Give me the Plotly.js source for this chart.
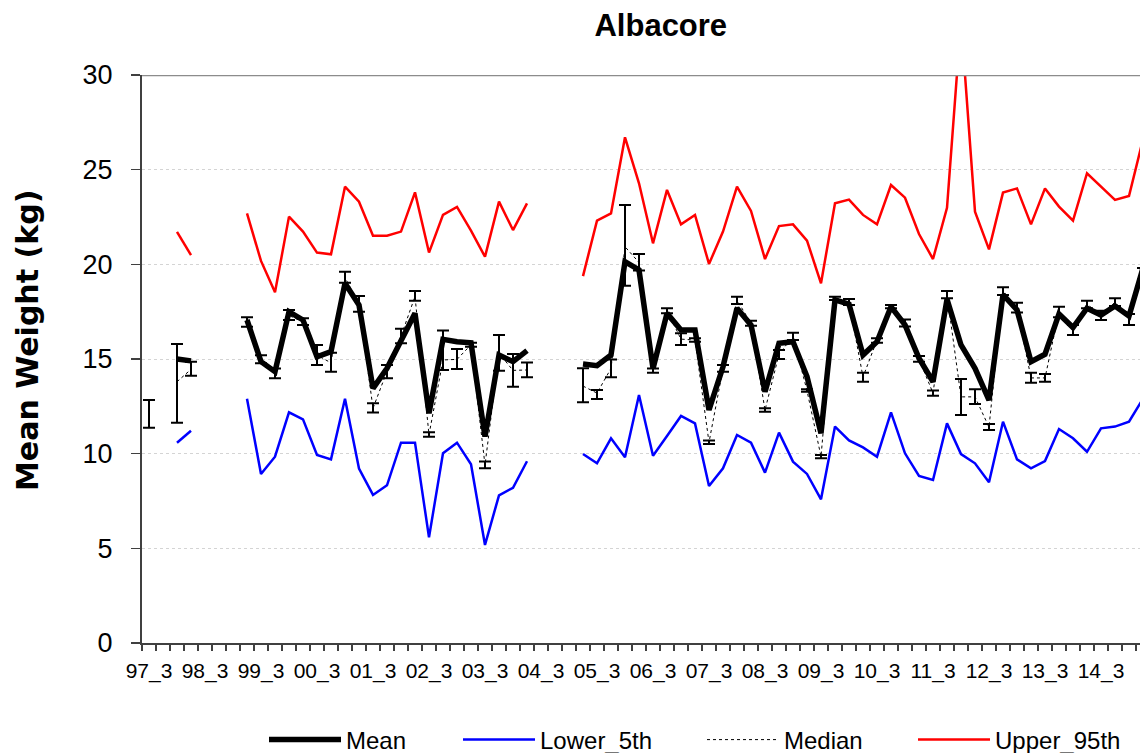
<!DOCTYPE html>
<html><head><meta charset="utf-8">
<script src="https://cdn.plot.ly/plotly-3.0.1.min.js"></script>
<style>html,body{margin:0;padding:0;overflow:hidden;background:#fff}#chart{width:1140px;height:753px}</style>
</head><body><div id="chart"></div><script>
const categories = ['97_3','97_4','98_1','98_2','98_3','98_4','99_1','99_2','99_3','99_4',
  '00_1','00_2','00_3','00_4','01_1','01_2','01_3','01_4','02_1','02_2','02_3','02_4',
  '03_1','03_2','03_3','03_4','04_1','04_2','04_3','04_4','05_1','05_2','05_3','05_4',
  '06_1','06_2','06_3','06_4','07_1','07_2','07_3','07_4','08_1','08_2','08_3','08_4',
  '09_1','09_2','09_3','09_4','10_1','10_2','10_3','10_4','11_1','11_2','11_3','11_4',
  '12_1','12_2','12_3','12_4','13_1','13_2','13_3','13_4','14_1','14_2','14_3','14_4',
  '15_1','15_2'];
const tickLabels = ['97_3','98_3','99_3','00_3','01_3','02_3','03_3','04_3','05_3','06_3',
  '07_3','08_3','09_3','10_3','11_3','12_3','13_3','14_3'];

const meanWeight = [12.1, null, 15.0, 14.9, null, null, null,
  17.06, 14.86, 14.33, 17.5, 17.06, 15.12, 15.39, 19.0, 17.85, 13.45, 14.51, 16.0, 17.41, 12.13, 16.04, 15.91, 15.86, 10.9, 15.21, 14.86, 15.44,
  null, null, null,
  14.74, 14.65, 15.21, 20.14, 19.70, 14.5, 17.41, 16.53, 16.53, 12.31, 14.59, 17.68, 16.80, 13.27, 15.83, 15.91, 14.07, 11.08, 18.12, 17.9,
  15.21, 15.91, 17.76, 16.80, 15.04, 13.80, 18.15, 15.74, 14.51, 12.83, 18.4, 17.59, 14.86, 15.25, 17.38, 16.66, 17.68, 17.32, 17.80, 17.27, 19.8];

const lower5th = [null, null, 10.58, 11.21, null, null, null,
  12.90, 8.93, 9.84, 12.18, 11.81, 9.93, 9.70, 12.90, 9.21, 7.82, 8.33, 10.58, 10.58, 5.58, 10.02, 10.58, 9.44, 5.18, 7.80, 8.20, 9.60,
  null, null, null,
  9.98, 9.49, 10.81, 9.81, 13.10, 9.89, 10.93, 11.99, 11.60, 8.29, 9.23, 10.99, 10.58, 9.0, 11.11, 9.58, 8.93, 7.59, 11.43, 10.70,
  10.33, 9.84, 12.18, 10.02, 8.82, 8.61, 11.60, 9.98, 9.49, 8.49, 11.69, 9.70, 9.23, 9.61, 11.30, 10.81, 10.10, 11.34, 11.43, 11.69, 12.9];

const median = [12.1, null, 13.8, 14.45, null, null, null,
  16.95, 15.0, 14.25, 17.3, 16.95, 15.2, 14.8, 19.3, 17.9, 12.4, 14.35, 16.2, 18.3, 11.0, 14.95, 14.98, 15.75, 9.4, 15.3, 14.4, 14.42,
  null, null, null,
  13.57, 13.2, 14.5, 20.93, 20.1, 14.4, 17.55, 16.05, 16.0, 10.6, 14.5, 18.1, 16.9, 12.3, 15.25, 16.2, 13.33, 9.85, 18.2, 18.0,
  14.05, 16.0, 17.77, 16.9, 15.0, 13.2, 18.4, 13.0, 13.0, 11.4, 18.58, 17.7, 14.0, 14.0, 17.48, 16.5, 17.9, 17.3, 18.0, 17.1, 19.5];

const medianCiLow = [11.37, null, 11.63, 14.12, null, null, null,
  16.7, 14.77, 13.98, 17.06, 16.8, 14.68, 14.33, 19.03, 17.5, 12.17, 13.98, 15.83, 18.08, 10.9, 14.42, 14.47, 15.65, 9.23, 14.38, 13.54, 14.03,
  null, null, null,
  12.71, 12.89, 14.03, 18.87, 19.67, 14.28, 17.41, 15.74, 15.91, 10.51, 14.33, 17.9, 16.76, 12.22, 15.0, 16.0, 13.27, 9.76, 18.12, 17.85,
  13.8, 15.86, 17.68, 16.71, 14.86, 13.06, 18.21, 12.04, 12.62, 11.25, 18.38, 17.45, 13.75, 13.8, 17.2, 16.27, 17.68, 17.06, 17.8, 16.8, 19.2];

const medianCiHigh = [12.83, null, 15.79, 14.86, null, null, null,
  17.2, 15.2, 14.5, 17.59, 17.15, 15.74, 15.33, 19.61, 18.33, 12.66, 14.68, 16.6, 18.59, 11.13, 16.5, 15.53, 15.86, 9.58, 16.27, 15.26, 14.81,
  null, null, null,
  14.51, 13.36, 14.98, 23.13, 20.55, 14.5, 17.68, 16.36, 16.1, 10.69, 14.68, 18.29, 17.02, 12.4, 15.48, 16.39, 13.4, 9.93, 18.29, 18.17,
  14.28, 16.09, 17.85, 17.09, 15.16, 13.33, 18.59, 13.94, 13.4, 11.57, 18.79, 17.97, 14.28, 14.21, 17.76, 16.8, 18.08, 17.55, 18.21, 17.38, 19.8];

const upper95th = [null, null, 21.72, 20.49, null, null, null,
  22.69, 20.18, 18.52, 22.52, 21.73, 20.62, 20.53, 24.10, 23.31, 21.51, 21.51, 21.73, 23.80, 20.62, 22.61, 23.03, 21.78, 20.40, 23.31, 21.81, 23.22,
  null, null, null,
  19.38, 22.31, 22.69, 26.71, 24.28, 21.11, 23.93, 22.11, 22.61, 20.02, 21.73, 24.10, 22.82, 20.28, 22.02, 22.11, 21.25, 19.0, 23.22, 23.42,
  22.61, 22.11, 24.19, 23.52, 21.60, 20.28, 22.99, 32.9, 22.78, 20.79, 23.79, 24.01, 22.11, 24.01, 23.05, 22.31, 24.81, 24.10, 23.40, 23.61, 26.6];

const errPlus = median.map((m, i) => m === null ? null : +(medianCiHigh[i] - m).toFixed(3));
const errMinus = median.map((m, i) => m === null ? null : +(m - medianCiLow[i]).toFixed(3));
const tickText = categories.map(c => tickLabels.includes(c) ? c : '');

const FONT = 'Arial, "Liberation Sans", sans-serif';
const L = 142, R = 1140, T = 75, B = 643;
const PW = R - L, PH = B - T;
const px2x = px => (px - L) / PW;
const px2y = py => (B - py) / PH;
const catW = 14;

const traces = [
  {x: categories, y: lower5th, mode: 'lines', name: 'Lower_5th', legend: 'legend2',
   line: {color: '#0000ff', width: 2.5}},
  {x: categories, y: upper95th, mode: 'lines', name: 'Upper_95th', legend: 'legend4',
   line: {color: '#ff0000', width: 2.5}},
  {x: categories, y: meanWeight, mode: 'lines', name: 'Mean', legend: 'legend',
   line: {color: '#000000', width: 5.5}},
  {x: categories, y: median, mode: 'lines', name: 'Median', legend: 'legend3',
   line: {color: '#000000', width: 1, dash: 'dot'},
   error_y: {type: 'data', symmetric: false, array: errPlus, arrayminus: errMinus,
             color: '#000000', thickness: 2, width: 6}}
];

function leg(px) {
  return {x: px2x(px), xanchor: 'left', y: px2y(740), yanchor: 'middle', orientation: 'h',
          font: {family: FONT, size: 24, color: '#000'}, itemwidth: 72,
          bgcolor: 'rgba(0,0,0,0)', borderwidth: 0};
}

const layout = {
  width: 1140, height: 753,
  margin: {l: L, r: 0, t: T, b: 753 - B, pad: 0, autoexpand: false},
  paper_bgcolor: '#ffffff', plot_bgcolor: '#ffffff',
  showlegend: true,
  title: {text: '<b>Albacore</b>', font: {family: FONT, size: 31, color: '#000'},
          x: 660.8 / 1140, xref: 'container', xanchor: 'center',
          y: 1 - 25 / 753, yref: 'container', yanchor: 'middle'},
  xaxis: {type: 'category', categoryorder: 'array', categoryarray: categories,
          range: [-0.5, PW / catW - 0.5],
          tickmode: 'array', tickvals: categories, ticktext: tickText,
          tickson: 'boundaries', ticks: 'outside', ticklen: 6, tickwidth: 1.5, tickcolor: '#404040',
          tickangle: 0, ticklabelstandoff: 8,
          tickfont: {family: FONT, size: 21, color: '#000'},
          showgrid: false, zeroline: false, showline: true, linecolor: '#404040', linewidth: 2},
  yaxis: {range: [0, 30], tickmode: 'linear', tick0: 0, dtick: 5,
          ticks: 'outside', ticklen: 9, tickwidth: 1.5, tickcolor: '#404040',
          ticklabelstandoff: 13,
          tickfont: {family: FONT, size: 27, color: '#000'},
          showgrid: true, gridcolor: '#d4d4d4', griddash: 'dot', gridwidth: 1,
          zeroline: false, showline: true, linecolor: '#404040', linewidth: 2},
  shapes: [{type: 'line', xref: 'paper', yref: 'y', x0: 0, x1: 1, y0: 30, y1: 30,
            line: {color: '#8c8c8c', width: 2.5}}],
  annotations: [{text: '<b>Mean Weight (kg)</b>', textangle: -90, showarrow: false,
                 xref: 'paper', yref: 'paper', x: px2x(27), y: px2y(341),
                 xanchor: 'center', yanchor: 'middle',
                 font: {family: '"DejaVu Sans", Arial, sans-serif', size: 30, color: '#000'}}],
  legend: leg(264),
  legend2: leg(458),
  legend3: leg(702),
  legend4: leg(913)
};

Plotly.newPlot('chart', traces, layout, {staticPlot: true, displayModeBar: false});
</script></body></html>
